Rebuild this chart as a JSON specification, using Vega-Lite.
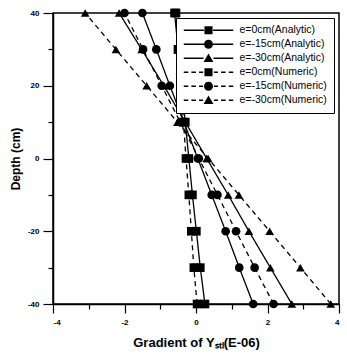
{
  "$schema": "https://vega.github.io/schema/vega-lite/v6.json",
  "width": 286,
  "height": 291,
  "autosize": {"type": "none"},
  "padding": {"left": 53, "top": 13, "right": 8, "bottom": 55},
  "background": "white",
  "config": {
    "view": {"stroke": "black", "strokeWidth": 1.5},
    "font": "Liberation Sans",
    "axis": {
      "grid": false,
      "domainColor": "black",
      "domainWidth": 1.5,
      "tickColor": "black",
      "tickWidth": 1.2,
      "labelFont": "Liberation Sans",
      "labelFontSize": 8,
      "labelFontWeight": "bold",
      "labelColor": "black",
      "titleFont": "Liberation Sans",
      "titleFontWeight": "bold",
      "titleColor": "black"
    }
  },
  "data": {
    "values": [
      {"series": "e=0cm(Analytic)", "depth": 40, "g": -0.6},
      {"series": "e=0cm(Analytic)", "depth": 30, "g": -0.5},
      {"series": "e=0cm(Analytic)", "depth": 20, "g": -0.4},
      {"series": "e=0cm(Analytic)", "depth": 10, "g": -0.3},
      {"series": "e=0cm(Analytic)", "depth": 0, "g": -0.2},
      {"series": "e=0cm(Analytic)", "depth": -10, "g": -0.1},
      {"series": "e=0cm(Analytic)", "depth": -20, "g": 0.01},
      {"series": "e=0cm(Analytic)", "depth": -30, "g": 0.12},
      {"series": "e=0cm(Analytic)", "depth": -40, "g": 0.25},
      {"series": "e=-15cm(Analytic)", "depth": 40, "g": -1.5},
      {"series": "e=-15cm(Analytic)", "depth": 30, "g": -1.11},
      {"series": "e=-15cm(Analytic)", "depth": 20, "g": -0.73},
      {"series": "e=-15cm(Analytic)", "depth": 10, "g": -0.34},
      {"series": "e=-15cm(Analytic)", "depth": 0, "g": 0.05},
      {"series": "e=-15cm(Analytic)", "depth": -10, "g": 0.44},
      {"series": "e=-15cm(Analytic)", "depth": -20, "g": 0.83},
      {"series": "e=-15cm(Analytic)", "depth": -30, "g": 1.21},
      {"series": "e=-15cm(Analytic)", "depth": -40, "g": 1.6},
      {"series": "e=-30cm(Analytic)", "depth": 40, "g": -2.15},
      {"series": "e=-30cm(Analytic)", "depth": 30, "g": -1.52},
      {"series": "e=-30cm(Analytic)", "depth": 20, "g": -0.9},
      {"series": "e=-30cm(Analytic)", "depth": 10, "g": -0.3},
      {"series": "e=-30cm(Analytic)", "depth": 0, "g": 0.3},
      {"series": "e=-30cm(Analytic)", "depth": -10, "g": 0.9},
      {"series": "e=-30cm(Analytic)", "depth": -20, "g": 1.48},
      {"series": "e=-30cm(Analytic)", "depth": -30, "g": 2.08},
      {"series": "e=-30cm(Analytic)", "depth": -40, "g": 2.68},
      {"series": "e=0cm(Numeric)", "depth": 40, "g": -0.56},
      {"series": "e=0cm(Numeric)", "depth": 30, "g": -0.5},
      {"series": "e=0cm(Numeric)", "depth": 20, "g": -0.42},
      {"series": "e=0cm(Numeric)", "depth": 10, "g": -0.35},
      {"series": "e=0cm(Numeric)", "depth": 0, "g": -0.28},
      {"series": "e=0cm(Numeric)", "depth": -10, "g": -0.2},
      {"series": "e=0cm(Numeric)", "depth": -20, "g": -0.13},
      {"series": "e=0cm(Numeric)", "depth": -30, "g": -0.06},
      {"series": "e=0cm(Numeric)", "depth": -40, "g": 0.03},
      {"series": "e=-15cm(Numeric)", "depth": 40, "g": -2.0},
      {"series": "e=-15cm(Numeric)", "depth": 30, "g": -1.48},
      {"series": "e=-15cm(Numeric)", "depth": 20, "g": -0.96},
      {"series": "e=-15cm(Numeric)", "depth": 10, "g": -0.44},
      {"series": "e=-15cm(Numeric)", "depth": 0, "g": 0.08},
      {"series": "e=-15cm(Numeric)", "depth": -10, "g": 0.6},
      {"series": "e=-15cm(Numeric)", "depth": -20, "g": 1.12},
      {"series": "e=-15cm(Numeric)", "depth": -30, "g": 1.64},
      {"series": "e=-15cm(Numeric)", "depth": -40, "g": 2.17},
      {"series": "e=-30cm(Numeric)", "depth": 40, "g": -3.1},
      {"series": "e=-30cm(Numeric)", "depth": 30, "g": -2.24},
      {"series": "e=-30cm(Numeric)", "depth": 20, "g": -1.38},
      {"series": "e=-30cm(Numeric)", "depth": 10, "g": -0.52},
      {"series": "e=-30cm(Numeric)", "depth": 0, "g": 0.34},
      {"series": "e=-30cm(Numeric)", "depth": -10, "g": 1.2},
      {"series": "e=-30cm(Numeric)", "depth": -20, "g": 2.06},
      {"series": "e=-30cm(Numeric)", "depth": -30, "g": 2.92},
      {"series": "e=-30cm(Numeric)", "depth": -40, "g": 3.77}
    ]
  },
  "layer": [
    {
      "mark": {"type": "line", "color": "black", "strokeWidth": 1.3},
      "encoding": {
        "x": {
          "field": "g", "type": "quantitative",
          "scale": {"domain": [-4, 4], "nice": false},
          "axis": {"orient": "bottom", "values": [-4, -2, 0, 2, 4], "tickSize": 9, "labelPadding": 5, "labelExpr": "'' + datum.value", "title": "Gradient of Yₛₜₗ(E-06)", "titleFontSize": 13, "titlePadding": 10}
        },
        "y": {
          "field": "depth", "type": "quantitative",
          "scale": {"domain": [-40, 40], "nice": false},
          "axis": {"orient": "left", "values": [-40, -20, 0, 20, 40], "tickSize": 10, "labelPadding": 4, "labelExpr": "'' + datum.value", "title": "Depth (cm)", "titleFontSize": 12, "titlePadding": 5}
        },
        "strokeDash": {
          "field": "series", "type": "nominal",
          "scale": {
            "domain": ["e=0cm(Analytic)", "e=-15cm(Analytic)", "e=-30cm(Analytic)", "e=0cm(Numeric)", "e=-15cm(Numeric)", "e=-30cm(Numeric)"],
            "range": [[1, 0], [1, 0], [1, 0], [5, 4], [5, 4], [5, 4]]
          },
          "legend": null
        },
        "order": {"field": "depth", "type": "quantitative"}
      }
    },
    {
      "mark": {"type": "point", "filled": true, "color": "black", "size": 75, "opacity": 1},
      "encoding": {
        "x": {
          "field": "g", "type": "quantitative",
          "axis": {"orient": "bottom", "values": [-3, -1, 1, 3], "tickSize": 5, "labels": false, "domain": false, "title": null}
        },
        "y": {
          "field": "depth", "type": "quantitative",
          "axis": {"orient": "left", "values": [-30, -10, 10, 30], "tickSize": 5, "labels": false, "domain": false, "title": null}
        },
        "shape": {
          "field": "series", "type": "nominal",
          "scale": {
            "domain": ["e=0cm(Analytic)", "e=-15cm(Analytic)", "e=-30cm(Analytic)", "e=0cm(Numeric)", "e=-15cm(Numeric)", "e=-30cm(Numeric)"],
            "range": ["square", "circle", "triangle-up", "square", "circle", "triangle-up"]
          },
          "legend": null
        }
      }
    },
    {
      "mark": {"type": "point", "filled": true, "color": "black", "opacity": 0},
      "encoding": {
        "x": {"field": "g", "type": "quantitative", "axis": null},
        "y": {"field": "depth", "type": "quantitative", "axis": null},
        "shape": {
          "field": "series", "type": "nominal",
          "scale": {
            "domain": ["e=0cm(Analytic)", "e=-15cm(Analytic)", "e=-30cm(Analytic)", "e=0cm(Numeric)", "e=-15cm(Numeric)", "e=-30cm(Numeric)"],
            "range": [
              "M-1,-0.15H3.5V0.15H-1Z M5.5,-0.15H10V0.15H5.5Z M3.6,-0.9H5.4V0.9H3.6Z",
              "M-1,-0.15H3.5V0.15H-1Z M5.5,-0.15H10V0.15H5.5Z M5.5,0A1,1,0,1,1,3.5,0A1,1,0,1,1,5.5,0Z",
              "M-1,-0.15H3.4V0.15H-1Z M5.6,-0.15H10V0.15H5.6Z M4.5,-1.05L5.6,0.85H3.4Z",
              "M-1,-0.15H0V0.15H-1Z M0.7,-0.15H1.7V0.15H0.7Z M2.4,-0.15H3.3V0.15H2.4Z M5.7,-0.15H6.6V0.15H5.7Z M7.3,-0.15H8.3V0.15H7.3Z M9,-0.15H10V0.15H9Z M3.6,-0.9H5.4V0.9H3.6Z",
              "M-1,-0.15H0V0.15H-1Z M0.7,-0.15H1.7V0.15H0.7Z M2.4,-0.15H3.3V0.15H2.4Z M5.7,-0.15H6.6V0.15H5.7Z M7.3,-0.15H8.3V0.15H7.3Z M9,-0.15H10V0.15H9Z M5.5,0A1,1,0,1,1,3.5,0A1,1,0,1,1,5.5,0Z",
              "M-1,-0.15H0V0.15H-1Z M0.7,-0.15H1.7V0.15H0.7Z M2.4,-0.15H3.3V0.15H2.4Z M5.7,-0.15H6.6V0.15H5.7Z M7.3,-0.15H8.3V0.15H7.3Z M9,-0.15H10V0.15H9Z M4.5,-1.05L5.6,0.85H3.4Z"
            ]
          },
          "legend": {
            "title": null,
            "orient": "top-right",
            "offset": 5,
            "padding": 7,
            "strokeColor": "black",
            "fillColor": "white",
            "symbolSize": 81,
            "symbolStrokeWidth": 0,
            "symbolFillColor": "black",
            "symbolOpacity": 1,
            "labelOffset": 46,
            "labelFont": "Liberation Sans",
            "labelFontSize": 10.5,
            "labelColor": "black",
            "rowPadding": 3,
            "encode": {
              "symbols": {
                "update": {
                  "opacity": {"value": 1},
                  "fill": {"value": "black"},
                  "fillOpacity": {"value": 1},
                  "strokeWidth": {"value": 0}
                }
              }
            }
          }
        }
      }
    }
  ],
  "resolve": {
    "scale": {"shape": "independent"},
    "axis": {"x": "independent", "y": "independent"},
    "legend": {"shape": "independent"}
  }
}
